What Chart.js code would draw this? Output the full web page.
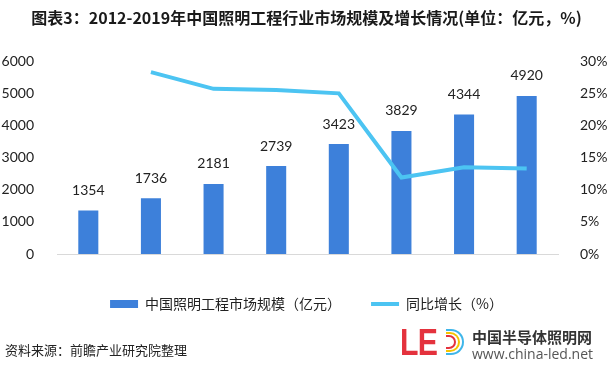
<!DOCTYPE html>
<html>
<head>
<meta charset="utf-8">
<script src="https://cdn.jsdelivr.net/npm/chart.js@4.4.1/dist/chart.umd.min.js"></script>
<style>
  html, body { margin: 0; padding: 0; background: #fff; }
  #wrap { position: relative; width: 613px; height: 370px; overflow: hidden; }
  #chart { position: absolute; left: 0; top: 0; }
  .src { position: absolute; left: 5px; top: 340px; font: 13px "Noto Sans CJK SC"; color: #222; }
  .le { position: absolute; left: 400px; top: 322px; font: bold 36px "Liberation Sans"; color: #e4323d;
        transform: scaleX(0.84); transform-origin: left top; letter-spacing: -1px; }
  .arc { position: absolute; border-style: solid; border-left: none; }
  .site1 { position: absolute; left: 472px; top: 326px; font: bold 15px "Noto Sans CJK SC"; color: #333; }
  .site2 { position: absolute; left: 472px; top: 344px; font: 14px "Open Sans"; color: #555; }
</style>
</head>
<body>
<div id="wrap">
  <canvas id="chart" width="613" height="370"></canvas>
  <div class="src">资料来源：前瞻产业研究院整理</div>
  <div class="le">LE</div>
  <div class="arc" style="left:446px;top:329px;width:16px;height:22px;border-width:2px;border-color:#3fb6ea;border-radius:0 13px 13px 0;"></div>
  <div class="arc" style="left:446px;top:332px;width:12px;height:16px;border-width:2px;border-color:#f5c400;border-radius:0 10px 10px 0;"></div>
  <div class="arc" style="left:446px;top:335px;width:8px;height:10px;border-width:2px;border-color:#e4323d;border-radius:0 7px 7px 0;"></div>
  <div class="site1">中国半导体照明网</div>
  <div class="site2">www.china-led.net</div>
</div>
<script>
// values
const years = ['2012', '2013', '2014', '2015', '2016', '2017', '2018', '2019E'];
const marketSize = [1354, 1736, 2181, 2739, 3423, 3829, 4344, 4920];
const growth = [null, 28.3, 25.7, 25.5, 25.0, 11.9, 13.5, 13.3];
const leftTicks = [0, 6000, 1000];
const rightTicks = [0, 30, 5];

const barColor = '#3d80da';
const lineColor = '#4cc4f2';

// numbers above the bars
const barLabels = {
  id: 'barLabels',
  afterDatasetsDraw(chart) {
    const ctx = chart.ctx;
    const meta = chart.getDatasetMeta(0);
    ctx.save();
    ctx.font = '14px Lato';
    ctx.fillStyle = '#222';
    ctx.textAlign = 'center';
    ctx.textBaseline = 'middle';
    meta.data.forEach((bar, i) => {
      ctx.fillText(String(marketSize[i]), bar.x, bar.y - 20);
    });
    ctx.restore();
  }
};

const ctx = document.getElementById('chart');
window.myChart = new Chart(ctx, {
  type: 'bar',
  data: {
    labels: years,
    datasets: [
      {
        type: 'bar',
        label: '中国照明工程市场规模（亿元）',
        data: marketSize,
        backgroundColor: barColor,
        borderWidth: 0,
        barPercentage: 0.32,
        categoryPercentage: 1,
        yAxisID: 'y',
        order: 2,
        pointStyle: 'rect'
      },
      {
        type: 'line',
        label: '同比增长（%）',
        data: growth,
        borderColor: lineColor,
        backgroundColor: lineColor,
        borderWidth: 4,
        pointRadius: 0,
        tension: 0,
        yAxisID: 'y1',
        order: 1,
        pointStyle: 'line'
      }
    ]
  },
  options: {
    responsive: false,
    animation: false,
    layout: { padding: { top: 0, bottom: 49, left: 0, right: 0 } },
    plugins: {
      title: {
        display: true,
        text: '图表3：2012-2019年中国照明工程行业市场规模及增长情况(单位：亿元，%)',
        color: '#1a1a1a',
        font: { family: '"Noto Sans CJK SC"', size: 16, weight: 'bold', lineHeight: 1.2 },
        padding: { top: 8, bottom: 34 }
      },
      legend: {
        position: 'bottom',
        labels: {
          usePointStyle: true,
          pointStyleWidth: 28,
          boxHeight: 8,
          padding: 30,
          color: '#222',
          font: { family: '"Noto Sans CJK SC"', size: 14 },
          sort: (a, b) => a.datasetIndex - b.datasetIndex
        }
      },
      tooltip: { enabled: false }
    },
    scales: {
      x: {
        grid: { display: false },
        border: { display: true, color: '#d9d9d9', width: 1 },
        ticks: { color: '#222', padding: 10, font: { family: 'Lato', size: 14, weight: 'bold' } },
        afterFit: (scale) => { scale.height = 13; }
      },
      y: {
        position: 'left',
        min: leftTicks[0],
        max: leftTicks[1],
        grid: { display: false },
        border: { display: false },
        ticks: {
          stepSize: leftTicks[2],
          color: '#222',
          padding: 15,
          font: { family: 'Lato', size: 14 },
          callback: (v) => String(v)
        },
        afterFit: (scale) => { scale.width = 57; }
      },
      y1: {
        position: 'right',
        min: rightTicks[0],
        max: rightTicks[1],
        grid: { display: false },
        border: { display: false },
        ticks: {
          stepSize: rightTicks[2],
          color: '#222',
          padding: 14,
          font: { family: 'Lato', size: 14 },
          callback: (v) => v + '%'
        },
        afterFit: (scale) => { scale.width = 55; }
      }
    }
  },
  plugins: [barLabels]
});
</script>
</body>
</html>
